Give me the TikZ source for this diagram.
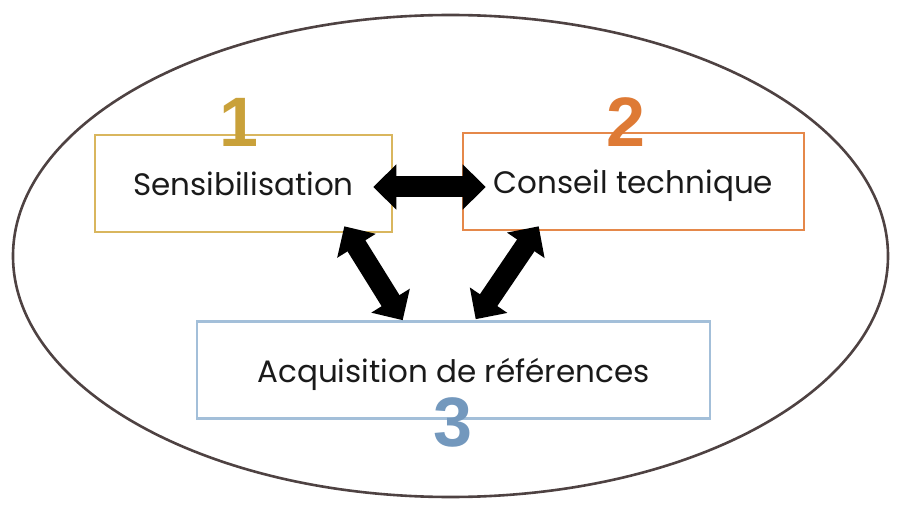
\documentclass[tikz,border=0pt]{standalone}
\usepackage{fontspec}
\setmainfont{Poppins}
\newfontfamily\digitfont{Liberation Sans}
\usetikzlibrary{arrows.meta,calc}
\definecolor{ringcol}{HTML}{4E4242}
\definecolor{goldcol}{HTML}{D9B65E}
\definecolor{golddigit}{HTML}{C9A13A}
\definecolor{orangecol}{HTML}{E5884A}
\definecolor{orangedigit}{HTML}{DE7A35}
\definecolor{bluecol}{HTML}{A3BFD9}
\definecolor{bluedigit}{HTML}{7398BD}
\definecolor{textcol}{HTML}{1A1A1A}
\tikzset{
  stagebox/.style={draw, line width=2.6pt, minimum height=97pt, inner sep=0pt,
    text depth=0pt, font=\fontsize{31}{36}\selectfont, text=textcol},
  stagenum/.style={font=\digitfont\bfseries\fontsize{70}{70}\selectfont, inner sep=0pt},
  blockarrow/.style={line width=21pt, draw=black,
    {Triangle[width=44pt,length=23pt]}-{Triangle[width=44pt,length=23pt]}}
}
\begin{document}
\begin{tikzpicture}[x=1pt,y=-1pt]
  \useasboundingbox (0,0) rectangle (916,513);
  % outer ring
  \draw[ringcol, line width=2.6pt] (450.5,256) ellipse [x radius=437.5, y radius=241];
  % the three stages
  \node[stagebox, draw=goldcol, minimum width=297pt] (sens) at (243.5,183.5) {Sensibilisation};
  \node[stagebox, draw=orangecol, minimum width=341pt] (cons) at (633.5,181.5) {Conseil technique};
  \node[stagebox, draw=bluecol, minimum width=513pt] (acq) at (453.5,370) {Acquisition de références};
  % stage numbers
  \node[stagenum, text=golddigit] (n1) at (239,122) {1};
  \node[stagenum, text=orangedigit] (n2) at (626,122) {2};
  \node[stagenum, text=bluedigit] (n3) at (453,422) {3};
  % arrow ends
  \coordinate (sE) at ($(sens.east)+(-20,3.5)$);
  \coordinate (cW) at ($(cons.west)+(24,5.5)$);
  \coordinate (sS) at ($(sens.south east)+(-49,-7)$);
  \coordinate (aL) at ($(acq.north west)+(207,0)$);
  \coordinate (cS) at ($(cons.south west)+(77,-5)$);
  \coordinate (aR) at ($(acq.north west)+(280,-1)$);
  % two-way links
  \draw[blockarrow] (sE) -- (cW);
  \draw[blockarrow] (sS) -- (aL);
  \draw[blockarrow] (cS) -- (aR);
\end{tikzpicture}
\end{document}
